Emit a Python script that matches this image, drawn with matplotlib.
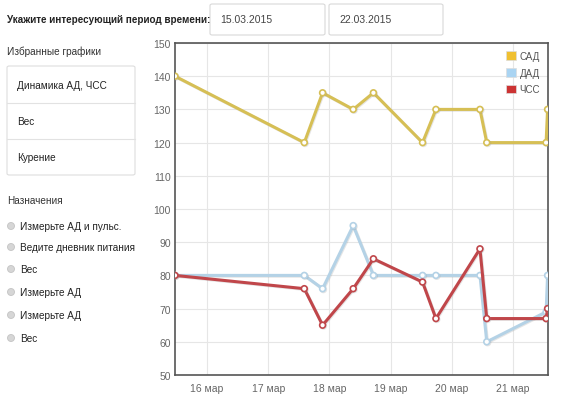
import matplotlib
matplotlib.use("Agg")
import matplotlib.pyplot as plt
import matplotlib.patheffects as pe
from matplotlib.patches import FancyBboxPatch, Ellipse
import pandas as pd

plt.rcParams['font.family'] = ['Liberation Sans', 'DejaVu Sans']

# ---- data ----
times = pd.to_datetime([
    "2015-03-15 11:30", "2015-03-17 14:10", "2015-03-17 21:20", "2015-03-18 09:20",
    "2015-03-18 17:15", "2015-03-19 12:30", "2015-03-19 17:45", "2015-03-20 11:00",
    "2015-03-20 13:40", "2015-03-21 12:55", "2015-03-21 13:30"])
sad = [140, 120, 135, 130, 135, 120, 130, 130, 120, 120, 130]
dad = [80, 80, 76, 95, 80, 80, 80, 80, 60, 69, 80]
chss = [80, 76, 65, 76, 85, 78, 67, 88, 67, 67, 70]
series_names = ["САД", "ДАД", "ЧСС"]
line_colors = ["#d6bf55", "#b4d2e6", "#c0464a"]
legend_colors = ["#f0c030", "#aad4f2", "#cc3333"]
tick_days = pd.to_datetime(["2015-03-16", "2015-03-17", "2015-03-18",
                            "2015-03-19", "2015-03-20", "2015-03-21"])
tick_labels = ["16 мар", "17 мар", "18 мар", "19 мар", "20 мар", "21 мар"]
y_ticks = [50, 60, 70, 80, 90, 100, 110, 120, 130, 140, 150]

header = "Укажите интересующий период времени:"
date_from = "15.03.2015"
date_to = "22.03.2015"
fav_title = "Избранные графики"
fav_items = ["Динамика АД, ЧСС", "Вес", "Курение"]
assign_title = "Назначения"
assign_items = ["Измерьте АД и пульс.", "Ведите дневник питания", "Вес",
                "Измерьте АД", "Измерьте АД", "Вес"]

W, H = 567, 410
fig = plt.figure(figsize=(W / 100, H / 100), dpi=100)
fig.patch.set_facecolor("white")

def fx(x):
    return x / W

def fy(y):
    return 1 - y / H

UI = 7.2

# ---- UI text ----
fig.text(fx(7), fy(20), header, fontsize=7.1, fontweight="bold", color="#222222", va="center")
for x0, x1, txt in [(210, 325, date_from), (329, 443, date_to)]:
    fig.patches.append(FancyBboxPatch((fx(x0), fy(36)), fx(x1 - x0), (36 - 5) / H,
                                      boxstyle="round,pad=0,rounding_size=0.004",
                                      transform=fig.transFigure, fc="white", ec="#d8d8d8", lw=0.8))
    fig.text(fx(x0 + 10), fy(20), txt, fontsize=7.5, color="#444444", va="center")

fig.text(fx(7), fy(52), fav_title, fontsize=UI, color="#333333", va="center")
fig.patches.append(FancyBboxPatch((fx(7), fy(176)), fx(128), (176 - 67) / H,
                                  boxstyle="round,pad=0,rounding_size=0.004",
                                  transform=fig.transFigure, fc="white", ec="#dddddd", lw=0.8))
for y in [104, 140]:
    fig.add_artist(plt.Line2D([fx(7), fx(135)], [fy(y), fy(y)], color="#e2e2e2", lw=0.8))
for item, y in zip(fav_items, [86, 122, 158]):
    fig.text(fx(17), fy(y), item, fontsize=UI, color="#222222", va="center")

fig.text(fx(7), fy(201), assign_title, fontsize=UI, color="#333333", va="center")
for item, y in zip(assign_items, [227, 248, 270, 293, 316, 339]):
    fig.add_artist(Ellipse((fx(11), fy(y)), 7 / W, 7 / H, transform=fig.transFigure,
                           fc="#d6d6d6", ec="#c4c4c4", lw=0.6))
    fig.text(fx(20), fy(y), item, fontsize=UI, color="#222222", va="center")

# ---- chart ----
ax = fig.add_axes([fx(175), fy(376), fx(548 - 175), (376 - 44) / H])
ax.set_facecolor("white")
for s, c in zip([sad, dad, chss], line_colors):
    ax.plot(times, s, color=c, lw=2.2, marker="o", ms=4.2, mfc="white", mec=c, mew=1.2,
            zorder=3,
            path_effects=[pe.SimpleLineShadow(offset=(0.6, -0.6), shadow_color="#999999", alpha=0.25),
                          pe.Normal()])

ax.set_xlim(times[0], times[-1] + pd.Timedelta(minutes=10))
ax.set_ylim(50, 150)
ax.set_yticks(y_ticks)
ax.set_xticks(tick_days)
ax.set_xticklabels(tick_labels)
ax.grid(True, color="#e6e6e6", lw=0.8)
ax.set_axisbelow(True)
for sp in ax.spines.values():
    sp.set_color("#555555")
    sp.set_linewidth(1.2)
ax.tick_params(axis="both", length=0, labelsize=7.5, colors="#666666", pad=3)
ax.tick_params(axis="x", pad=6)

# legend
handles = [plt.Rectangle((0, 0), 1, 1, fc=c, ec="#dddddd", lw=0.5) for c in legend_colors]
leg = ax.legend(handles, series_names, loc="upper right", frameon=False, fontsize=7,
                handlelength=1.0, handleheight=1.0, handletextpad=0.4, labelspacing=0.7,
                borderaxespad=0.4)
for t in leg.get_texts():
    t.set_color("#555555")

fig.savefig("out.png", dpi=100)
